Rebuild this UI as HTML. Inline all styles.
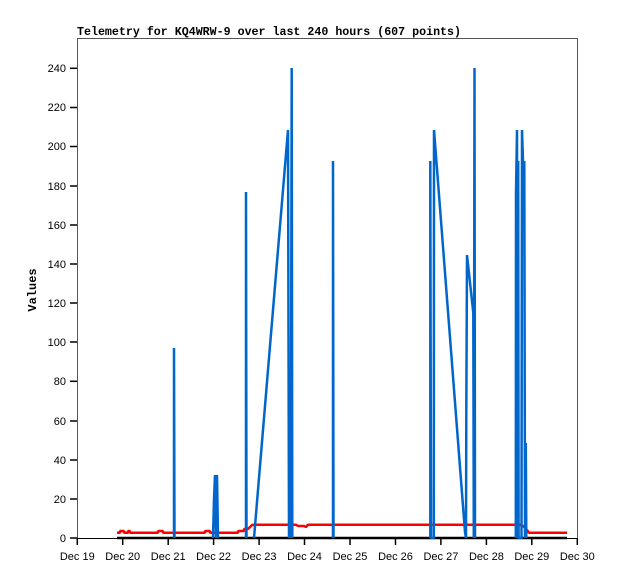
<!DOCTYPE html>
<html><head><style>body{margin:0;background:#fff}svg{display:block}</style></head><body>
<svg width="618" height="579" viewBox="0 0 618 579" xmlns="http://www.w3.org/2000/svg" font-family="'Liberation Mono','DejaVu Sans Mono',monospace">
<rect width="618" height="579" fill="#fff"/>
<text x="77" y="35" font-size="11.6" font-weight="bold" textLength="384" lengthAdjust="spacingAndGlyphs">Telemetry for KQ4WRW-9 over last 240 hours (607 points)</text>
<text transform="translate(36,290) rotate(-90)" font-size="12" font-weight="bold" text-anchor="middle">Values</text>
<g stroke="#555" stroke-width="1" fill="none">
<line x1="77.5" y1="38.5" x2="577.5" y2="38.5"/>
<line x1="77.5" y1="38" x2="77.5" y2="538"/>
<line x1="577.5" y1="38" x2="577.5" y2="538"/>
</g>
<g stroke="#000" stroke-width="1">
<line x1="77" y1="538.5" x2="577" y2="538.5"/>
</g>
<g stroke="#000" stroke-width="1.5">
<line x1="70" y1="538" x2="77" y2="538"/><line x1="70" y1="499" x2="77" y2="499"/><line x1="70" y1="460" x2="77" y2="460"/><line x1="70" y1="421" x2="77" y2="421"/><line x1="70" y1="381.3" x2="77" y2="381.3"/><line x1="70" y1="342" x2="77" y2="342"/><line x1="70" y1="303" x2="77" y2="303"/><line x1="70" y1="264" x2="77" y2="264"/><line x1="70" y1="225" x2="77" y2="225"/><line x1="70" y1="186" x2="77" y2="186"/><line x1="70" y1="146.5" x2="77" y2="146.5"/><line x1="70" y1="107.5" x2="77" y2="107.5"/><line x1="70" y1="68.3" x2="77" y2="68.3"/>
</g>
<g font-size="11" text-anchor="end" font-family="'Liberation Sans','DejaVu Sans',sans-serif">
<text x="66" y="542">0</text><text x="66" y="503">20</text><text x="66" y="464">40</text><text x="66" y="425">60</text><text x="66" y="385">80</text><text x="66" y="346">100</text><text x="66" y="307">120</text><text x="66" y="268">140</text><text x="66" y="229">160</text><text x="66" y="190">180</text><text x="66" y="150">200</text><text x="66" y="111">220</text><text x="66" y="72">240</text>
</g>
<g stroke="#000" stroke-width="1.5">
<line x1="77.3" y1="538" x2="77.3" y2="545"/><line x1="122.7" y1="538" x2="122.7" y2="545"/><line x1="168.2" y1="538" x2="168.2" y2="545"/><line x1="213.6" y1="538" x2="213.6" y2="545"/><line x1="259.1" y1="538" x2="259.1" y2="545"/><line x1="304.5" y1="538" x2="304.5" y2="545"/><line x1="350" y1="538" x2="350" y2="545"/><line x1="395.5" y1="538" x2="395.5" y2="545"/><line x1="440.9" y1="538" x2="440.9" y2="545"/><line x1="486.4" y1="538" x2="486.4" y2="545"/><line x1="531.8" y1="538" x2="531.8" y2="545"/><line x1="577.3" y1="538" x2="577.3" y2="545"/>
</g>
<g font-size="11" text-anchor="middle" font-family="'Liberation Sans','DejaVu Sans',sans-serif">
<text x="77.3" y="560">Dec 19</text><text x="122.7" y="560">Dec 20</text><text x="168.2" y="560">Dec 21</text><text x="213.6" y="560">Dec 22</text><text x="259.1" y="560">Dec 23</text><text x="304.5" y="560">Dec 24</text><text x="350" y="560">Dec 25</text><text x="395.5" y="560">Dec 26</text><text x="440.9" y="560">Dec 27</text><text x="486.4" y="560">Dec 28</text><text x="531.8" y="560">Dec 29</text><text x="577.3" y="560">Dec 30</text>
</g>
<line x1="117" y1="538" x2="567" y2="538" stroke="#000" stroke-width="2.5"/>
<polyline fill="none" stroke="#f00" stroke-width="2.5" stroke-linejoin="bevel" points="117,532.7 120,532.7 120,531 124,531 124,532.7 128,532.7 128,531 130,531 130,532.7 158,532.7 158,531 163,531 163,532.7 205,532.7 205,531 210,531 210,532.7 238,532.7 238,531 244,531 244,529 248,529 250,527 252,525 255,524.7 296,524.7 298,526 304,526 306,527 308,524.7 520,524.7 523,526 525,528 527,530 529,532.7 567,532.7"/>
<g fill="none" stroke="#0066cc" stroke-width="2.5" stroke-linejoin="bevel">
<polyline points="174,538 174,348 174.5,538"/>
<polyline points="213,538 214,499 215,475 216,538 217,475 218,538"/>
<polyline points="246,538 246,192 246.5,538"/>
<polyline points="254,538 288,130 289,538 290,382 290.8,538 291.7,68 292.3,538"/>
<polyline points="333,538 333,161 333.5,538"/>
<polyline points="430.3,538 430.3,161 431,538 433.8,538 434,130 465,532 466,538 466.3,412 467,255 473.3,313 473.8,538 474.5,68 475,538"/>
<polyline points="515.8,538 516,192 517,130 517.8,538 518.2,161 518.6,538 521.5,538 522,130 523,161 523.8,225 524.3,161 525,538 525.8,443 526.3,538"/>
</g>
</svg>
</body></html>
